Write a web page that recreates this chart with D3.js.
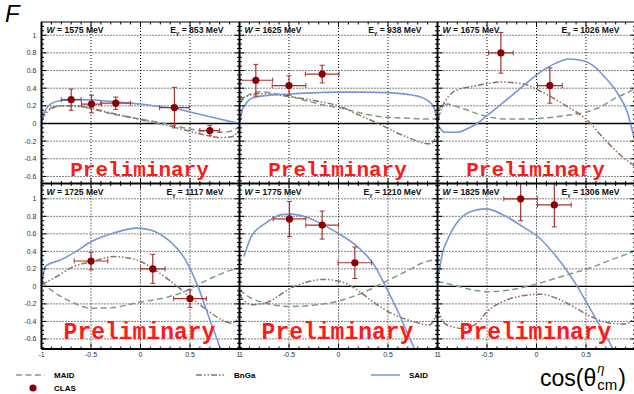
<!DOCTYPE html>
<html>
<head>
<meta charset="utf-8">
<script src="https://cdn.jsdelivr.net/npm/d3@7"></script>
<style>
  html, body { margin: 0; padding: 0; background: #fff; }
  svg { display: block; font-family: "Liberation Sans", Arial, sans-serif; }
</style>
</head>
<body>
<div id="chart"></div>
<script>
// panel kinematics
const wValues = [1575, 1625, 1675, 1725, 1775, 1825];
const eGamma = [853, 938, 1026, 1117, 1210, 1306];

// CLAS preliminary points: [cos, F, dcos, dF]
const clas = [
  [[-0.70, 0.27, 0.10, 0.12], [-0.495, 0.22, 0.10, 0.10], [-0.25, 0.23, 0.15, 0.07], [0.343, 0.18, 0.15, 0.23], [0.70, -0.08, 0.10, 0.06]],
  [[-0.835, 0.49, 0.17, 0.18], [-0.50, 0.43, 0.17, 0.11], [-0.165, 0.56, 0.17, 0.10]],
  [[-0.36, 0.80, 0.125, 0.23], [0.135, 0.43, 0.125, 0.20]],
  [[-0.50, 0.29, 0.17, 0.10], [0.124, 0.20, 0.125, 0.165], [0.50, -0.14, 0.165, 0.10]],
  [[-0.495, 0.77, 0.165, 0.20], [-0.165, 0.70, 0.165, 0.16], [0.165, 0.27, 0.17, 0.18]],
  [[-0.16, 1.00, 0.17, 0.25], [0.18, 0.93, 0.17, 0.25]]
];

// model curves: [cos, F]
const maid = [
  [[-1, 0.1], [-0.9, 0.18], [-0.8, 0.2], [-0.65, 0.2], [-0.5, 0.17], [-0.3, 0.11], [-0.1, 0.07], [0.1, 0.03], [0.25, 0.0], [0.4, -0.04], [0.6, -0.08], [0.8, -0.1], [0.9, -0.09], [1, -0.04]],
  [[-1, 0.23], [-0.9, 0.33], [-0.8, 0.36], [-0.65, 0.34], [-0.5, 0.31], [-0.3, 0.25], [-0.15, 0.21], [0, 0.18], [0.15, 0.14], [0.3, 0.1], [0.5, 0.07], [0.7, 0.06], [0.85, 0.05], [1, 0.05]],
  [[-1, 0.15], [-0.95, 0.2], [-0.9, 0.22], [-0.75, 0.17], [-0.5, 0.08], [-0.3, 0.05], [-0.1, 0.05], [0.05, 0.06], [0.3, 0.09], [0.5, 0.13], [0.65, 0.19], [0.8, 0.29], [0.92, 0.35], [1, 0.4]],
  [[-1, 0.05], [-0.88, -0.06], [-0.67, -0.19], [-0.5, -0.25], [-0.27, -0.24], [-0.03, -0.185], [0.28, -0.12], [0.445, -0.06], [0.615, 0.04], [0.785, 0.13], [0.9, 0.18], [1, 0.21]],
  [[-1, -0.04], [-0.88, -0.135], [-0.74, -0.19], [-0.48, -0.23], [-0.3, -0.22], [0.02, -0.16], [0.27, -0.06], [0.475, 0.055], [0.68, 0.17], [0.88, 0.28], [0.97, 0.3], [1, 0.27]],
  [[-1, 0.055], [-0.86, 0.02], [-0.645, -0.04], [-0.48, -0.06], [-0.27, -0.04], [0.03, 0.037], [0.3, 0.13], [0.54, 0.21], [0.745, 0.3], [0.915, 0.37], [1, 0.41]]
];

const bnga = [
  [[-1, 0.05], [-0.9, 0.17], [-0.8, 0.2], [-0.6, 0.19], [-0.45, 0.16], [-0.3, 0.12], [-0.1, 0.07], [0.1, 0.02], [0.3, -0.03], [0.5, -0.09], [0.65, -0.13], [0.8, -0.16], [0.92, -0.15], [1, -0.07]],
  [[-1, 0.27], [-0.9, 0.32], [-0.8, 0.34], [-0.6, 0.32], [-0.4, 0.29], [-0.2, 0.25], [0, 0.2], [0.2, 0.1], [0.4, 0.0], [0.6, -0.11], [0.75, -0.18], [0.85, -0.22], [0.93, -0.23], [1, -0.13]],
  [[-1, 0.02], [-0.95, 0.19], [-0.88, 0.32], [-0.8, 0.38], [-0.65, 0.42], [-0.5, 0.45], [-0.37, 0.47], [-0.14, 0.45], [0.05, 0.36], [0.3, 0.2], [0.51, 0.04], [0.68, -0.17], [0.85, -0.36], [1, -0.49]],
  [[-1, 0.02], [-0.85, 0.11], [-0.67, 0.23], [-0.5, 0.28], [-0.27, 0.34], [-0.03, 0.3], [0.14, 0.19], [0.31, 0.055], [0.48, -0.1], [0.65, -0.25], [0.82, -0.38], [0.92, -0.42], [1, -0.35]],
  [[-1, -0.1], [-0.88, -0.21], [-0.74, -0.19], [-0.48, -0.02], [-0.3, 0.055], [-0.15, 0.08], [0.02, 0.055], [0.19, -0.04], [0.34, -0.17], [0.54, -0.31], [0.75, -0.4], [0.92, -0.44], [1, -0.27]],
  [[-1, -0.25], [-0.93, -0.42], [-0.85, -0.46], [-0.75, -0.48], [-0.6, -0.42], [-0.5, -0.29], [-0.3, -0.155], [-0.1, -0.1], [0.05, -0.09], [0.2, -0.135], [0.37, -0.23], [0.55, -0.345], [0.75, -0.42], [0.9, -0.43], [1, -0.345]]
];

const said = [
  [[-1, 0], [-0.96, 0.15], [-0.91, 0.22], [-0.8, 0.26], [-0.6, 0.27], [-0.4, 0.26], [-0.2, 0.24], [0, 0.22], [0.2, 0.19], [0.35, 0.17], [0.5, 0.13], [0.65, 0.09], [0.8, 0.05], [0.92, 0.02], [1, 0]],
  [[-1, 0], [-0.97, 0.16], [-0.945, 0.21], [-0.87, 0.29], [-0.7, 0.32], [-0.485, 0.335], [-0.2, 0.35], [0, 0.355], [0.25, 0.355], [0.5, 0.35], [0.7, 0.33], [0.8, 0.31], [0.9, 0.26], [0.96, 0.19], [0.985, 0.1], [1, 0]],
  [[-1, 0.01], [-0.97, -0.06], [-0.92, -0.1], [-0.8, -0.1], [-0.7, -0.06], [-0.6, 0.0], [-0.5, 0.09], [-0.3, 0.27], [-0.14, 0.42], [0.05, 0.59], [0.17, 0.67], [0.33, 0.73], [0.47, 0.71], [0.6, 0.63], [0.67, 0.55], [0.82, 0.34], [0.92, 0.12], [0.97, -0.09], [1, -0.22]],
  [[-1, 0], [-0.97, 0.2], [-0.95, 0.24], [-0.81, 0.3], [-0.65, 0.4], [-0.5, 0.51], [-0.27, 0.61], [-0.03, 0.665], [0.1, 0.645], [0.28, 0.53], [0.445, 0.32], [0.58, 0.0], [0.7, -0.38], [0.8, -0.69], [0.9, -1.1], [0.995, -1.4], [1, -0.05]],
  [[-0.955, 0.34], [-0.88, 0.57], [-0.74, 0.72], [-0.574, 0.82], [-0.48, 0.825], [-0.3, 0.78], [-0.15, 0.7], [0.02, 0.59], [0.19, 0.455], [0.36, 0.245], [0.475, 0.0], [0.61, -0.31], [0.71, -0.57], [0.78, -0.75], [0.9, -1.2], [1, -1.5]],
  [[-1, 0.04], [-0.95, 0.38], [-0.9, 0.53], [-0.78, 0.76], [-0.645, 0.86], [-0.51, 0.885], [-0.31, 0.8], [-0.137, 0.68], [0.032, 0.55], [0.2, 0.34], [0.37, 0.075], [0.54, -0.25], [0.675, -0.52], [0.777, -0.73], [0.9, -1.2], [0.995, -1.4], [1, -0.38]]
];

const xTicks = [-1, -0.5, 0, 0.5, 1];
const yTicks = [-0.6, -0.4, -0.2, 0, 0.2, 0.4, 0.6, 0.8, 1];

const colMaid = '#7c9c86', colBnga = '#8c7060', colSaid = '#7797d8';
const colData = '#8b0000', colErr = '#a83232';

const width = 634, height = 394;
const colX = [41.5, 239.5, 437.5];
const pw = 198;
const rows = [
  { top: 22, bottom: 183.5, dom: [-0.68, 1.15], prelim: 176, psize: 21 },
  { top: 183.5, bottom: 349, dom: [-0.715, 1.175], prelim: 339, psize: 23 }
];

const svg = d3.select('#chart').append('svg')
  .attr('width', width).attr('height', height)
  .attr('viewBox', `0 0 ${width} ${height}`);

const defs = svg.append('defs');

wValues.forEach((wv, i) => {
  const col = i % 3, r = rows[Math.floor(i / 3)];
  const x = d3.scaleLinear().domain([-1, 1]).range([colX[col], colX[col] + pw]);
  const y = d3.scaleLinear().domain(r.dom).range([r.bottom, r.top]);
  const g = svg.append('g');

  defs.append('clipPath').attr('id', `clip${i}`)
    .append('rect')
    .attr('x', x(-1)).attr('y', r.top)
    .attr('width', pw).attr('height', r.bottom - r.top);

  // dotted grid
  g.selectAll('line.gx').data([-0.5, 0, 0.5]).join('line')
    .attr('x1', (d) => x(d)).attr('x2', (d) => x(d))
    .attr('y1', r.top).attr('y2', r.bottom)
    .attr('stroke', '#000').attr('stroke-width', 1).attr('stroke-dasharray', '1,2');
  g.selectAll('line.gy').data(yTicks.filter((d) => d !== 0)).join('line')
    .attr('x1', x(-1)).attr('x2', x(1))
    .attr('y1', (d) => y(d)).attr('y2', (d) => y(d))
    .attr('stroke', '#000').attr('stroke-width', 1).attr('stroke-dasharray', '1,2');
  g.append('line')
    .attr('x1', x(-1)).attr('x2', x(1))
    .attr('y1', y(0)).attr('y2', y(0))
    .attr('stroke', '#000').attr('stroke-width', 1.4);

  const plot = g.append('g').attr('clip-path', `url(#clip${i})`);
  const line = d3.line().x((d) => x(d[0])).y((d) => y(d[1])).curve(d3.curveMonotoneX);

  plot.append('path').attr('d', line(maid[i]))
    .attr('fill', 'none').attr('stroke', colMaid).attr('stroke-width', 1.5)
    .attr('stroke-dasharray', '6,3.5');
  plot.append('path').attr('d', line(bnga[i]))
    .attr('fill', 'none').attr('stroke', colBnga).attr('stroke-width', 1.5)
    .attr('stroke-dasharray', '6,2,1.5,2,1.5,2');
  plot.append('path').attr('d', line(said[i]))
    .attr('fill', 'none').attr('stroke', colSaid).attr('stroke-width', 1.6);

  // CLAS points with error bars
  const pts = plot.selectAll('g.pt').data(clas[i]).join('g');
  pts.append('line')
    .attr('x1', (d) => x(d[0] - d[2])).attr('x2', (d) => x(d[0] + d[2]))
    .attr('y1', (d) => y(d[1])).attr('y2', (d) => y(d[1]))
    .attr('stroke', colErr).attr('stroke-width', 1.2);
  pts.append('line')
    .attr('x1', (d) => x(d[0])).attr('x2', (d) => x(d[0]))
    .attr('y1', (d) => y(d[1] - d[3])).attr('y2', (d) => y(d[1] + d[3]))
    .attr('stroke', colErr).attr('stroke-width', 1.2);
  [-1, 1].forEach((s) => {
    pts.append('line')
      .attr('x1', (d) => x(d[0] + s * d[2])).attr('x2', (d) => x(d[0] + s * d[2]))
      .attr('y1', (d) => y(d[1]) - 2.5).attr('y2', (d) => y(d[1]) + 2.5)
      .attr('stroke', colErr).attr('stroke-width', 1);
    pts.append('line')
      .attr('x1', (d) => x(d[0]) - 2.5).attr('x2', (d) => x(d[0]) + 2.5)
      .attr('y1', (d) => y(d[1] + s * d[3])).attr('y2', (d) => y(d[1] + s * d[3]))
      .attr('stroke', colErr).attr('stroke-width', 1);
  });
  pts.append('circle')
    .attr('cx', (d) => x(d[0])).attr('cy', (d) => y(d[1])).attr('r', 3.6)
    .attr('fill', colData);

  // Preliminary stamp
  g.append('text')
    .attr('x', x(-0.01)).attr('y', r.prelim)
    .attr('text-anchor', 'middle')
    .attr('font-family', '"Liberation Mono", "Courier New", monospace')
    .attr('font-weight', 'bold').attr('font-size', r.psize)
    .attr('fill', '#ff1a1a')
    .text('Preliminary');

  // frame and ticks
  g.append('rect')
    .attr('x', x(-1)).attr('y', r.top).attr('width', pw).attr('height', r.bottom - r.top)
    .attr('fill', 'none').attr('stroke', '#000').attr('stroke-width', 1);

  const yMinor = d3.range(Math.ceil(r.dom[0] / 0.05), Math.floor(r.dom[1] / 0.05) + 1).map((k) => k * 0.05);
  const tk = g.append('g').attr('stroke', '#000').attr('stroke-width', 1);
  yMinor.forEach((v) => {
    const major = Math.abs(Math.round(v * 5) - v * 5) < 1e-6;
    const len = major ? 5 : 2.5;
    tk.append('line').attr('x1', x(-1)).attr('x2', x(-1) + len).attr('y1', y(v)).attr('y2', y(v));
    tk.append('line').attr('x1', x(1)).attr('x2', x(1) - len).attr('y1', y(v)).attr('y2', y(v));
  });
  d3.range(-10, 11).map((k) => k / 10).forEach((v) => {
    const major = Math.abs(v * 2 - Math.round(v * 2)) < 1e-6;
    const len = major ? 5 : 2.5;
    tk.append('line').attr('x1', x(v)).attr('x2', x(v)).attr('y1', r.bottom).attr('y2', r.bottom - len);
    tk.append('line').attr('x1', x(v)).attr('x2', x(v)).attr('y1', r.top).attr('y2', r.top + len);
  });

  // panel labels
  const wl = g.append('text')
    .attr('x', x(-1) + 5).attr('y', r.top + 11)
    .attr('font-size', 8.6).attr('font-weight', 'bold').attr('fill', '#111');
  wl.append('tspan').attr('font-style', 'italic').text('W');
  wl.append('tspan').text(` = ${wv} MeV`);
  const el = g.append('text')
    .attr('x', x(1) - 16).attr('y', r.top + 11)
    .attr('text-anchor', 'end')
    .attr('font-size', 8.6).attr('font-weight', 'bold').attr('fill', '#111');
  el.append('tspan').text('E');
  el.append('tspan').attr('font-size', 5.8).attr('dy', 2).text('γ');
  el.append('tspan').attr('dy', -2).text(` = ${eGamma[i]} MeV`);

  // y tick labels on the first column
  if (col === 0) {
    g.selectAll('text.yl').data(yTicks).join('text')
      .attr('x', x(-1) - 5).attr('y', (d) => y(d) + 2.5)
      .attr('text-anchor', 'end').attr('font-size', 7).attr('fill', '#333')
      .text((d) => String(d));
  }
  // x tick labels on the bottom row
  if (r === rows[1]) {
    xTicks.forEach((v) => {
      if (col === 2 && v === 1) return;
      let label = String(v), anchor = 'middle';
      if (v === -1 && col > 0) { label = '1'; anchor = 'start'; }
      if (v === 1) anchor = 'end';
      g.append('text')
        .attr('x', x(v) + (v === -1 && col > 0 ? -0.5 : v === 1 ? 1 : 0))
        .attr('y', r.bottom + 8)
        .attr('text-anchor', anchor).attr('font-size', 7).attr('fill', '#333')
        .text(label);
    });
  }
});

// thick axis lines / pad separators
const sep = svg.append('g').attr('stroke', '#000').attr('stroke-width', 2);
colX.forEach((cx) => sep.append('line').attr('x1', cx).attr('x2', cx).attr('y1', rows[0].top).attr('y2', rows[1].bottom));
sep.append('line').attr('x1', colX[0]).attr('x2', width).attr('y1', rows[0].bottom).attr('y2', rows[0].bottom);
sep.append('line').attr('x1', colX[0]).attr('x2', width).attr('y1', rows[1].bottom).attr('y2', rows[1].bottom);

// observable title
svg.append('text').attr('x', 5).attr('y', 22)
  .attr('font-size', 24).attr('font-style', 'italic').attr('fill', '#000')
  .text('F');

// legend
const legend = [
  { name: 'MAID', x: 16, y: 375, color: colMaid, dash: '6,3.5' },
  { name: 'BnGa', x: 196, y: 375, color: colBnga, dash: '6,2,1.5,2,1.5,2' },
  { name: 'SAID', x: 371, y: 375, color: colSaid, dash: null }
];
const lg = svg.append('g').attr('font-size', 8).attr('font-weight', 'bold');
legend.forEach((d) => {
  lg.append('line')
    .attr('x1', d.x).attr('x2', d.x + 29).attr('y1', d.y).attr('y2', d.y)
    .attr('stroke', d.color).attr('stroke-width', 1.5)
    .attr('stroke-dasharray', d.dash);
  lg.append('text').attr('x', d.x + 38).attr('y', d.y + 3).text(d.name);
});
lg.append('circle').attr('cx', 33).attr('cy', 388).attr('r', 3.6).attr('fill', colData);
lg.append('text').attr('x', 54).attr('y', 391).text('CLAS');

// x-axis title
const at = svg.append('g').attr('fill', '#000');
const main = at.append('text').attr('x', 540).attr('y', 386).attr('font-size', 23).text('cos(θ');
const mw = main.node().getComputedTextLength();
at.append('text').attr('x', 540 + mw + 1).attr('y', 373).attr('font-size', 13).attr('font-style', 'italic').text('η');
const sub = at.append('text').attr('x', 540 + mw + 1).attr('y', 390).attr('font-size', 15).text('cm');
const sw = sub.node().getComputedTextLength();
at.append('text').attr('x', 540 + mw + 2 + sw).attr('y', 386).attr('font-size', 23).text(')');
</script>
</body>
</html>
